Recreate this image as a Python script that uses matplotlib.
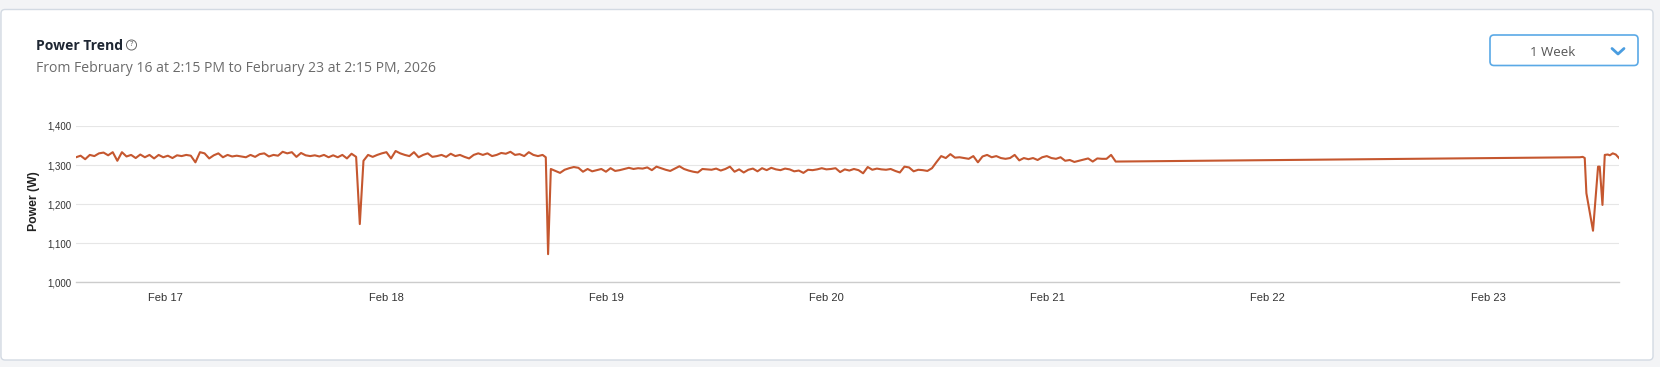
import matplotlib
matplotlib.use("Agg")
import matplotlib.pyplot as plt
import matplotlib.dates as mdates
from matplotlib.patches import FancyBboxPatch
from matplotlib.lines import Line2D
import numpy as np
import pandas as pd

# ---------------- data ----------------
START = pd.Timestamp("2026-02-16 14:15")
END = pd.Timestamp("2026-02-23 14:15")
STEP_H = 0.5  # sampling step of the regular segments, hours

seg1_start = 0.0
seg1_w = [1320, 1324, 1315, 1326, 1323, 1330, 1332, 1325, 1333, 1311,
          1333, 1322, 1326, 1318, 1327, 1320, 1326, 1317, 1326, 1320,
          1324, 1318, 1325, 1323, 1326, 1324, 1307, 1333, 1330, 1317,
          1325, 1330, 1320, 1326, 1322, 1324, 1322, 1320, 1326, 1321,
          1328, 1330, 1322, 1326, 1324, 1334, 1330, 1333, 1321, 1331,
          1325, 1323, 1325, 1322, 1326, 1320, 1325, 1320, 1326, 1317,
          1329, 1321]

dip1_h = [30.9]
dip1_w = [1149]

seg2_start = 31.3
seg2_w = [1311, 1326, 1321, 1326, 1330, 1333, 1317, 1336, 1330, 1326,
          1323, 1333, 1320, 1326, 1330, 1321, 1323, 1326, 1321, 1329,
          1323, 1326, 1321, 1317, 1326, 1330, 1326, 1330, 1323, 1326,
          1331, 1329, 1334, 1326, 1328, 1323, 1333, 1326, 1323, 1326]

dip2_h = [51.15, 51.4]
dip2_w = [1320, 1072]

seg3_start = 51.7
seg3_w = [1290, 1285, 1280, 1288, 1292, 1295, 1293, 1283, 1290, 1284,
          1287, 1290, 1283, 1292, 1285, 1287, 1290, 1293, 1290, 1292,
          1291, 1294, 1287, 1296, 1292, 1288, 1285, 1291, 1297, 1290,
          1286, 1283, 1281, 1290, 1289, 1288, 1291, 1286, 1290, 1296,
          1283, 1289, 1281, 1288, 1291, 1284, 1292, 1287, 1293, 1289,
          1287, 1291, 1289, 1284, 1286, 1280, 1288, 1287, 1289, 1292,
          1289, 1290, 1292, 1282, 1289, 1286, 1290, 1287, 1279, 1295,
          1288, 1291, 1289, 1288, 1290, 1285, 1281, 1296, 1294, 1284,
          1288, 1287, 1285]

seg4_start = 93.2
seg4_w = [1292, 1308, 1323, 1318, 1328, 1319, 1320, 1318, 1316, 1323,
          1307, 1322, 1326, 1320, 1323, 1318, 1316, 1318, 1326, 1312,
          1318, 1315, 1318, 1313, 1320, 1323, 1318, 1316, 1320, 1311,
          1313, 1308, 1311, 1314, 1317, 1309, 1317, 1316, 1316, 1326,
          1309]

tail_h = [163.73, 164.05, 164.27, 164.45, 165.17, 165.72, 165.9,
          166.2, 166.45, 166.78, 167.0, 167.32, 167.65, 168.0]
tail_w = [1320, 1321, 1318, 1228, 1132, 1296, 1296,
          1198, 1326, 1327, 1325, 1330, 1327, 1318]

y_ticks = [1000, 1100, 1200, 1300, 1400]


def seg_hours(start, values):
    return list(start + STEP_H * np.arange(len(values)))


hours = (seg_hours(seg1_start, seg1_w) + dip1_h + seg_hours(seg2_start, seg2_w)
         + dip2_h + seg_hours(seg3_start, seg3_w) + seg_hours(seg4_start, seg4_w)
         + tail_h)
watts = seg1_w + dip1_w + seg2_w + dip2_w + seg3_w + seg4_w + tail_w
times = START + pd.to_timedelta(hours, unit="h")

# ---------------- figure ----------------
W, H = 1660, 367
fig = plt.figure(figsize=(W / 100, H / 100), dpi=100)
fig.patch.set_facecolor("#f3f4f6")


def px_box(x0, y0, x1, y1, r, z, **kw):
    # box given in pixels from the top-left corner
    p = FancyBboxPatch((x0 / 100, (H - y1) / 100), (x1 - x0) / 100, (y1 - y0) / 100,
                       boxstyle="round,pad=0,rounding_size=%f" % (r / 100),
                       transform=fig.dpi_scale_trans, zorder=z, **kw)
    fig.patches.append(p)


# card
px_box(1, 9.5, 1653, 360, 4, -10, fc="white", ec="#d3dae3", lw=1.0)

# title + subtitle
fig.text(36.5 / W, 1 - 46 / H, "Power Trend", family="Open Sans", weight="bold",
         fontsize=10.1, color="#1f2733", ha="left", va="center")
fig.text(131.5 / W, 1 - 45 / H, "?", family="Open Sans", fontsize=5.5, color="#555",
         ha="center", va="center",
         bbox=dict(boxstyle="circle,pad=0.2", fc="white", ec="#666", lw=0.7))
fig.text(36.5 / W, 1 - 68 / H, "From February 16 at 2:15 PM to February 23 at 2:15 PM, 2026",
         family="Open Sans", fontsize=10.1, color="#6b6b6b", ha="left", va="center")

# dropdown
px_box(1490, 35, 1638, 65.5, 4, 1, fc="white", ec="#5aa9e6", lw=1.2)
fig.text(1553 / W, 1 - 52 / H, "1 Week", family="Open Sans", fontsize=9.5,
         color="#555", ha="center", va="center")
fig.lines.append(Line2D([16.12, 16.18, 16.24], [(H - 48.5) / 100, (H - 54) / 100, (H - 48.5) / 100],
                        transform=fig.dpi_scale_trans, color="#4a9de0", lw=2.0,
                        solid_capstyle="round", solid_joinstyle="round"))

# chart
left, right, top, bottom = 76, 1619, 126, 282.3
ax = fig.add_axes([left / W, 1 - bottom / H, (right - left) / W, (bottom - top) / H])
ax.set_facecolor("white")
ax.plot(times, watts, color="#c5572f", lw=1.5, solid_joinstyle="round")

ax.set_xlim(START, END)
ax.set_ylim(1000, 1400)
ax.set_yticks(y_ticks)
ax.yaxis.set_major_formatter(matplotlib.ticker.FuncFormatter(lambda v, p: f"{int(v):,}"))
ax.xaxis.set_major_locator(mdates.DayLocator())
ax.xaxis.set_major_formatter(mdates.DateFormatter("%b %d"))

ax.grid(axis="y", color="#e6e6e6", lw=0.8)
ax.set_axisbelow(True)
for s in ["top", "right", "left"]:
    ax.spines[s].set_visible(False)
ax.spines["bottom"].set_color("#cccccc")
ax.spines["bottom"].set_linewidth(1.0)
ax.tick_params(axis="y", length=0, pad=3, labelsize=7.0, labelcolor="#333333")
ax.tick_params(axis="x", length=0, pad=7.5, labelsize=8, labelcolor="#333333")
for lab in ax.get_xticklabels() + ax.get_yticklabels():
    lab.set_family("Liberation Sans")

ax.set_ylabel("Power (W)", family="Liberation Sans", fontsize=8.8, weight="bold", color="#222222")
ax.yaxis.set_label_coords(-0.0235, 0.52)

fig.savefig("out.png", dpi=100, facecolor=fig.get_facecolor())
